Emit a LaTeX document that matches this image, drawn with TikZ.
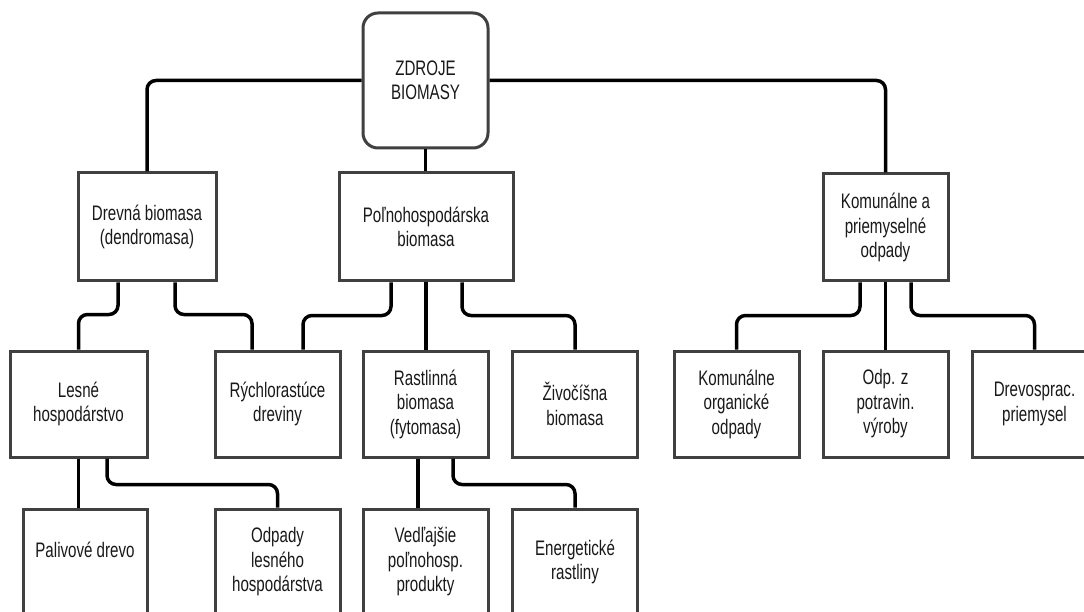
\documentclass[tikz,border=0pt]{standalone}
\usepackage{fontspec}
\setmainfont[FakeStretch=0.72]{Liberation Sans}
\begin{document}
\begin{tikzpicture}[x=1pt,y=-1pt,
  box/.style={draw=black!75, line width=3pt, fill=white, inner sep=0pt,
    minimum width=125pt, minimum height=106pt, align=center, text=black!90,
    font=\fontsize{21}{24.5}\selectfont},
  conn/.style={draw=black, line width=3.5pt, rounded corners=9pt}]
\useasboundingbox (0,0) rectangle (1084,612);
\clip (0,0) rectangle (1084,612);
\fill[white] (0,0) rectangle (1084,612);

% level 0
\node[box, minimum height=135pt, rounded corners=15pt] (root) at (425.5,80.5) {ZDROJE\\BIOMASY};
% level 1
\node[box, minimum width=138pt, minimum height=108pt] (drev) at (147,227) {Drevná biomasa\\(dendromasa)};
\node[box, minimum width=174pt, minimum height=108pt] (poln) at (426,227) {Poľnohospodárska\\biomasa};
\node[box, minimum height=107pt] (kom) at (885.5,227.5) {Komunálne a\\priemyselné\\odpady};
% level 2
\node[box, minimum width=137pt] (les) at (78.5,404) {Lesné\\hospodárstvo};
\node[box] (rych) at (277.5,404) {Rýchlorastúce\\dreviny};
\node[box] (rast) at (425.5,404) {Rastlinná\\biomasa\\(fytomasa)};
\node[box] (ziv) at (575,404) {Živočíšna\\biomasa};
\node[box] (kor) at (736.5,404) {Komunálne\\organické\\odpady};
\node[box] (odp) at (885.5,404) {Odp. z\\potravin.\\výroby};
\node[box] (drs) at (1034.5,404) {Drevosprac.\\priemysel};
% level 3
\node[box, minimum width=124pt] (pal) at (85,562) {Palivové drevo\\\mbox{}};
\node[box] (odl) at (277.5,562) {Odpady\\lesného\\hospodárstva};
\node[box] (ved) at (425.5,562) {Vedľajšie\\poľnohosp.\\produkty};
\node[box] (ene) at (575,562) {Energetické\\rastliny};

% connectors
\draw[conn] (root.west) -| (drev.north);
\draw[conn] (root.east) -| (kom.north);
\draw[conn] (root.south) -- (root.south |- poln.north);

\draw[conn] ([xshift=-29pt]drev.south) -- ++(0,32) -| (les.north);
\draw[conn] ([xshift=28pt]drev.south) -- ++(0,32) -| ([xshift=-25.5pt]rych.north);

\draw[conn] ([xshift=-35pt]poln.south) -- ++(0,33) -| ([xshift=25.5pt]rych.north);
\draw[conn] (poln.south) -- (poln.south |- rast.north);
\draw[conn] ([xshift=36pt]poln.south) -- ++(0,33) -| (ziv.north);

\draw[conn] ([xshift=-25.5pt]kom.south) -- ++(0,33) -| (kor.north);
\draw[conn] (kom.south) -- (kom.south |- odp.north);
\draw[conn] ([xshift=25.5pt]kom.south) -- ++(0,33) -| (drs.north);

\draw[conn] (les.south) -- (les.south |- pal.north);
\draw[conn] ([xshift=28.5pt]les.south) -- ++(0,26) -| (odl.north);

\draw[conn] ([xshift=-7.5pt]rast.south) -- ([xshift=-7.5pt]rast.south |- ved.north);
\draw[conn] ([xshift=27.5pt]rast.south) -- ++(0,26) -| (ene.north);
\end{tikzpicture}
\end{document}
